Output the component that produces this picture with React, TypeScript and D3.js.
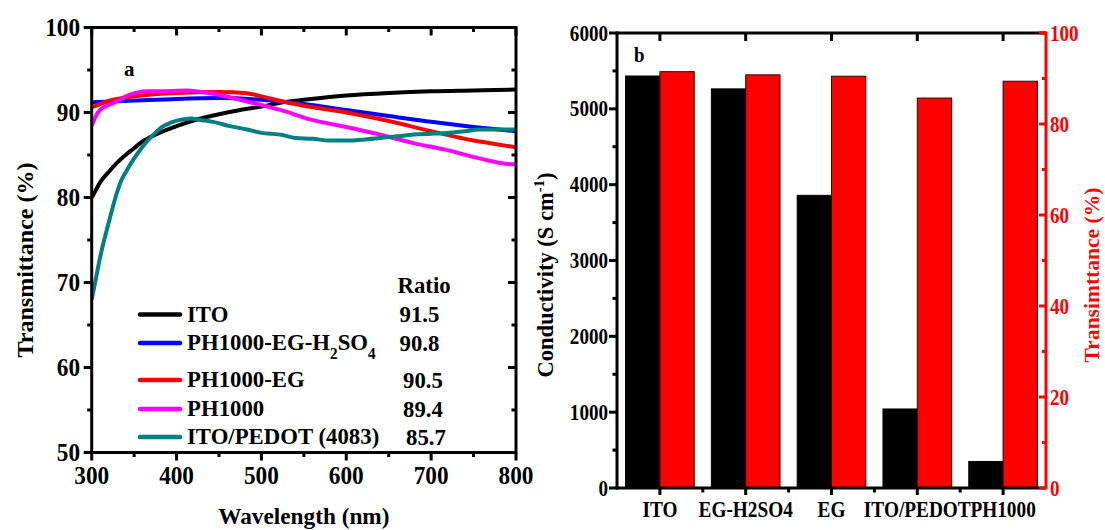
import React from 'react';
import * as d3 from 'd3';

// ---------- Panel a data ----------
const wavelengthTicks = [300, 400, 500, 600, 700, 800];
const wavelengthMinor = [350, 450, 550, 650, 750];
const transTicks = [50, 60, 70, 80, 90, 100];
const transMinor = [55, 65, 75, 85, 95];

const itoCurve: [number, number][] = [
  [300, 80.0], [305, 80.9], [310, 81.8], [320, 83.0], [330, 84.1], [340, 85.0], [350, 85.8],
  [360, 86.6], [375, 87.4], [400, 88.4], [425, 89.2], [450, 89.8], [475, 90.3], [500, 90.7],
  [525, 91.2], [550, 91.5], [600, 92.0], [650, 92.3], [700, 92.5], [750, 92.6], [800, 92.7],
];
const h2so4Curve: [number, number][] = [
  [300, 91.2], [350, 91.4], [400, 91.6], [450, 91.7], [500, 91.5], [550, 91.0], [600, 90.3],
  [650, 89.6], [700, 88.9], [750, 88.3], [800, 87.8],
];
const egCurve: [number, number][] = [
  [300, 90.6], [325, 91.5], [350, 91.9], [400, 92.3], [450, 92.4], [480, 92.3], [500, 91.9],
  [525, 91.3], [550, 90.8], [600, 90.0], [650, 89.0], [700, 87.8], [750, 86.7], [775, 86.3], [800, 85.9],
];
const ph1000Curve: [number, number][] = [
  [300, 88.4], [305, 89.6], [310, 90.3], [325, 91.1], [345, 92.1], [365, 92.5], [390, 92.5],
  [412, 92.6], [443, 92.2], [483, 91.3], [522, 90.3], [561, 89.1], [600, 88.3], [640, 87.4],
  [679, 86.4], [718, 85.6], [757, 84.6], [797, 83.9], [800, 83.9],
];
const pedotCurve: [number, number][] = [
  [300, 68.0], [305, 70.5], [310, 73.0], [316, 75.5], [322, 77.8], [328, 80.0], [334, 81.8],
  [342, 83.3], [350, 84.6], [358, 85.7], [366, 86.7], [375, 87.6], [383, 88.3], [393, 88.8],
  [403, 89.1], [416, 89.3], [430, 89.1], [443, 88.9], [463, 88.4], [483, 88.0], [500, 87.6],
  [522, 87.4], [540, 87.0], [561, 86.9], [580, 86.7], [600, 86.7], [620, 86.8], [640, 87.0],
  [660, 87.2], [679, 87.4], [700, 87.5], [718, 87.6], [740, 87.8], [757, 88.0], [780, 88.0], [800, 88.0],
];
const curves = [itoCurve, h2so4Curve, egCurve, ph1000Curve, pedotCurve];
const curveColors = ['#000000', '#0000ff', '#ff0000', '#ff00ff', '#008080'];
const legendRatios = ['91.5', '90.8', '90.5', '89.4', '85.7'];

// ---------- Panel b data ----------
const categories = ['ITO', 'EG-H2SO4', 'EG', 'ITO/PEDOT', 'PH1000'];
const conductivity = [5433, 5263, 3859, 1042, 350];
const transmittance = [91.5, 90.8, 90.5, 85.7, 89.4];
const condTicks = [0, 1000, 2000, 3000, 4000, 5000, 6000];
const condMinor = [500, 1500, 2500, 3500, 4500, 5500];
const rightTicks = [0, 20, 40, 60, 80, 100];
const rightMinor = [10, 30, 50, 70, 90];

const FONT = "'Liberation Serif', 'Times New Roman', serif";

type TP = { x: number; y: number; s?: number; size?: number; anchor?: string; fill?: string; rot?: number; children: React.ReactNode };
const Txt = ({ x, y, s = 0.95, size = 24, anchor = 'start', fill = '#000', rot = 0, children }: TP) => (
  <text
    transform={`translate(${x},${y}) rotate(${rot}) scale(${s},1)`}
    textAnchor={anchor}
    fontSize={size}
    fontWeight="bold"
    fontFamily={FONT}
    fill={fill}
  >
    {children}
  </text>
);

export default function App() {
  // Panel a scales
  const ax = d3.scaleLinear().domain([300, 800]).range([91.7, 516]);
  const ay = d3.scaleLinear().domain([50, 100]).range([452.5, 27.5]);
  const line = d3.line<[number, number]>().x((d) => ax(d[0])).y((d) => ay(d[1])).curve(d3.curveMonotoneX);

  // Panel b scales
  const bx = d3.scaleLinear().domain([0.5, 5.5]).range([617, 1046]);
  const byL = d3.scaleLinear().domain([0, 6000]).range([488, 33]);
  const byR = d3.scaleLinear().domain([0, 100]).range([488, 33]);
  const barW = (bx(1) - bx(0)) * 0.4;

  const aL = ax.range()[0], aR = ax.range()[1], aT = ay.range()[1], aB = ay.range()[0];
  const bL = bx.range()[0], bR = bx.range()[1], bT = byL.range()[1], bB = byL.range()[0];

  const legendY = [314.5, 343, 380, 409, 437];
  const legendTextX = 187;
  const ratioX = [399.5, 399.5, 403, 403, 406];

  return (
    <svg width={1105} height={530} style={{ position: 'absolute', left: 0, top: 0, background: '#fff' }}>
      <defs>
        <clipPath id="clipA">
          <rect x={aL} y={aT} width={aR - aL} height={aB - aT} />
        </clipPath>
      </defs>

      {/* ================= Panel a ================= */}
      <g clipPath="url(#clipA)">
        {curves.map((c, i) => (
          <path key={i} d={line(c) || ''} fill="none" stroke={curveColors[i]} strokeWidth={4} strokeLinejoin="round" />
        ))}
      </g>

      {/* frame */}
      <rect x={aL} y={aT} width={aR - aL} height={aB - aT} fill="none" stroke="#000" strokeWidth={3} />

      {/* x ticks */}
      {wavelengthTicks.map((t) => (
        <g key={'axt' + t}>
          <line x1={ax(t)} x2={ax(t)} y1={aB} y2={aB + 8} stroke="#000" strokeWidth={3} />
          <line x1={ax(t)} x2={ax(t)} y1={aT} y2={aT + 8} stroke="#000" strokeWidth={3} />
          <Txt x={ax(t)} y={484} anchor="middle" size={25} s={0.93}>{t}</Txt>
        </g>
      ))}
      {wavelengthMinor.map((t) => (
        <g key={'axm' + t}>
          <line x1={ax(t)} x2={ax(t)} y1={aB} y2={aB + 4.5} stroke="#000" strokeWidth={3} />
          <line x1={ax(t)} x2={ax(t)} y1={aT} y2={aT + 4.5} stroke="#000" strokeWidth={3} />
        </g>
      ))}
      {/* y ticks */}
      {transTicks.map((t) => (
        <g key={'ayt' + t}>
          <line x1={aL - 8} x2={aL} y1={ay(t)} y2={ay(t)} stroke="#000" strokeWidth={3} />
          <line x1={aR - 8} x2={aR} y1={ay(t)} y2={ay(t)} stroke="#000" strokeWidth={3} />
          <Txt x={80} y={ay(t) + 8.5} anchor="end" size={25} s={0.93}>{t}</Txt>
        </g>
      ))}
      {transMinor.map((t) => (
        <g key={'aym' + t}>
          <line x1={aL - 4.5} x2={aL} y1={ay(t)} y2={ay(t)} stroke="#000" strokeWidth={3} />
          <line x1={aR - 4.5} x2={aR} y1={ay(t)} y2={ay(t)} stroke="#000" strokeWidth={3} />
        </g>
      ))}

      <Txt x={(aL + aR) / 2} y={524} anchor="middle" s={0.97}>Wavelength (nm)</Txt>
      <Txt x={33} y={260} anchor="middle" rot={-90} s={1}>Transmittance (%)</Txt>
      <Txt x={124} y={76} size={21} s={1}>a</Txt>

      {/* legend */}
      <Txt x={397.5} y={293}>Ratio</Txt>
      {curveColors.map((c, i) => (
        <g key={'lg' + i}>
          <line x1={140} x2={180} y1={legendY[i]} y2={legendY[i]} stroke={c} strokeWidth={4.5} strokeLinecap="round" />
          <Txt x={ratioX[i]} y={legendY[i] + 7.5}>{legendRatios[i]}</Txt>
        </g>
      ))}
      <Txt x={legendTextX} y={legendY[0] + 7.5}>ITO</Txt>
      <Txt x={legendTextX} y={legendY[1] + 7}>
        PH1000-EG-H<tspan fontSize={16} dy={9}>2</tspan><tspan dy={-9}>SO</tspan><tspan fontSize={16} dy={9}>4</tspan>
      </Txt>
      <Txt x={legendTextX} y={legendY[2] + 7}>PH1000-EG</Txt>
      <Txt x={legendTextX} y={legendY[3] + 7}>PH1000</Txt>
      <Txt x={legendTextX} y={legendY[4] + 7}>ITO/PEDOT (4083)</Txt>

      {/* ================= Panel b ================= */}
      {categories.map((c, i) => (
        <g key={'bar' + i}>
          <rect
            x={bx(i + 1) - barW}
            y={byL(conductivity[i])}
            width={barW}
            height={bB - byL(conductivity[i])}
            fill="#000"
            stroke="#000"
            strokeWidth={1}
          />
          <rect
            x={bx(i + 1)}
            y={byR(transmittance[i])}
            width={barW}
            height={bB - byR(transmittance[i])}
            fill="#ff0000"
            stroke="#330000"
            strokeWidth={1}
          />
        </g>
      ))}

      {/* left, top, bottom axes */}
      <line x1={bL} x2={bR} y1={bT} y2={bT} stroke="#000" strokeWidth={3} />
      <line x1={bL} x2={bR} y1={bB} y2={bB} stroke="#000" strokeWidth={3} />
      <line x1={bL} x2={bL} y1={bT - 1.5} y2={bB + 1.5} stroke="#000" strokeWidth={3} />

      {condTicks.map((t) => (
        <g key={'bct' + t}>
          <line x1={bL - 8} x2={bL} y1={byL(t)} y2={byL(t)} stroke="#000" strokeWidth={3} />
          <Txt x={608} y={byL(t) + 7.5} anchor="end" s={0.83} size={23}>{t}</Txt>
        </g>
      ))}
      {condMinor.map((t) => (
        <line key={'bcm' + t} x1={bL - 4.5} x2={bL} y1={byL(t)} y2={byL(t)} stroke="#000" strokeWidth={3} />
      ))}
      {categories.map((c, i) => (
        <g key={'bxt' + i}>
          <line x1={bx(i + 1)} x2={bx(i + 1)} y1={bB} y2={bB + 7} stroke="#000" strokeWidth={3} />
          <line x1={bx(i + 1)} x2={bx(i + 1)} y1={bT} y2={bT + 8} stroke="#000" strokeWidth={3} />
          <Txt x={bx(i + 1)} y={517} anchor="middle" s={0.84} size={23}>{c}</Txt>
        </g>
      ))}
      {[1.5, 2.5, 3.5, 4.5].map((t) => (
        <line key={'bxm' + t} x1={bx(t)} x2={bx(t)} y1={bB} y2={bB + 4.5} stroke="#000" strokeWidth={3} />
      ))}

      {/* right red axis */}
      <line x1={bR} x2={bR} y1={bT - 1.5} y2={bB + 1.5} stroke="#ff0000" strokeWidth={3} />
      <line x1={bR - 6} x2={bR} y1={bT} y2={bT} stroke="#ff0000" strokeWidth={3} />
      {rightTicks.map((t) => (
        <g key={'brt' + t}>
          <line x1={bR - 7} x2={bR} y1={byR(t)} y2={byR(t)} stroke="#ff0000" strokeWidth={3} />
          <Txt x={1050} y={byR(t) + 7.5} s={0.83} size={23} fill="#ff0000">{t}</Txt>
        </g>
      ))}
      {rightMinor.map((t) => (
        <line key={'brm' + t} x1={bR - 4} x2={bR} y1={byR(t)} y2={byR(t)} stroke="#ff0000" strokeWidth={3} />
      ))}

      <Txt x={634} y={62} size={21} s={0.9}>b</Txt>
      <Txt x={553} y={275} anchor="middle" rot={-90} s={0.98} size={23}>
        Conductivity (S cm<tspan fontSize={15} dy={-9}>-1</tspan><tspan dy={9}>)</tspan>
      </Txt>
      <Txt x={1099} y={275} anchor="middle" rot={-90} s={0.98} size={22} fill="#ff0000">Transimttance (%)</Txt>
    </svg>
  );
}
